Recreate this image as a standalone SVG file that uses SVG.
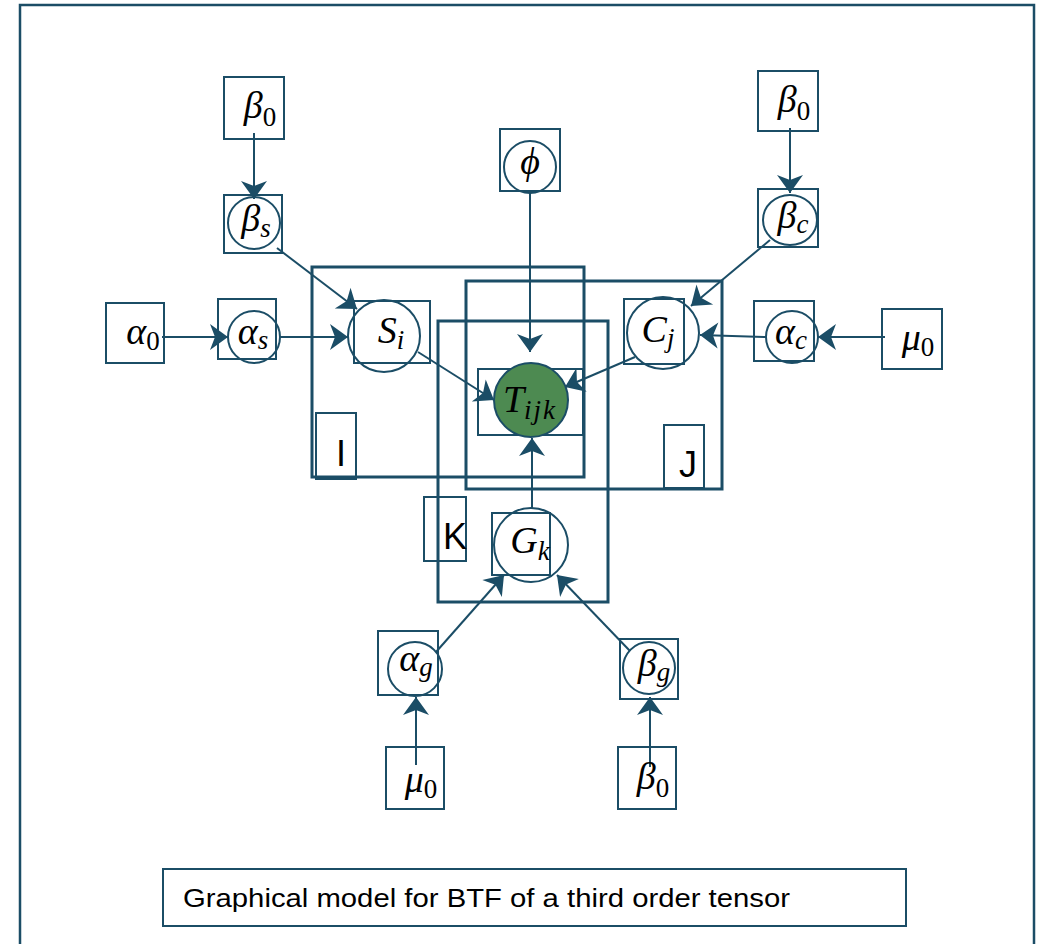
<svg xmlns="http://www.w3.org/2000/svg" width="1040" height="944" viewBox="0 0 1040 944">
<style>
.frame{fill:#fff;stroke:#1b4d66;stroke-width:2.5}
.plate{fill:none;stroke:#1b4d66;stroke-width:3}
.box{fill:none;stroke:#1b4d66;stroke-width:2}
.circ{fill:none;stroke:#1b4d66;stroke-width:2}
.obs{fill:#4d8a51;stroke:#1b4d66;stroke-width:2}
.edge{fill:none;stroke:#1b4d66;stroke-width:2;marker-end:url(#ah)}
.m{font-family:"Liberation Serif",serif;font-style:italic;font-size:38px;fill:#000;text-anchor:middle}
.s{font-size:27px}
.n{font-style:normal}
.pl{font-family:"Liberation Sans",Arial,sans-serif;font-size:36px;fill:#000;text-anchor:middle}
.cap{font-family:"Liberation Sans",Arial,sans-serif;font-size:25px;fill:#000}
</style>
<defs>
<marker id="ah" markerUnits="userSpaceOnUse" markerWidth="20" markerHeight="28" refX="18" refY="13" orient="auto" overflow="visible">
<path d="M0,0 L18,13 L0,26 L5,13 Z" fill="#1b4d66"/>
</marker>
</defs>
<rect class="frame" x="20" y="5" width="1014" height="960"/>

<g id="plates">
<rect id="plateI" class="plate" x="312" y="267" width="272" height="210"/>
<rect id="plateJ" class="plate" x="466" y="281" width="256" height="208"/>
<rect id="plateK" class="plate" x="438" y="321" width="170" height="281"/>
</g>

<g id="connectors">
<line class="edge" x1="254" y1="133" x2="254" y2="199"/>
<line class="edge" x1="162" y1="337" x2="228" y2="337"/>
<line class="edge" x1="280" y1="337" x2="348" y2="337"/>
<line class="edge" x1="277" y1="248" x2="357" y2="309"/>
<line class="edge" x1="530" y1="193" x2="530" y2="352"/>
<line class="edge" x1="790" y1="128" x2="790" y2="193"/>
<line class="edge" x1="770" y1="240" x2="691" y2="306"/>
<line class="edge" x1="885" y1="337" x2="818" y2="337"/>
<line class="edge" x1="766" y1="337" x2="700" y2="335"/>
<line class="edge" x1="418" y1="352" x2="494" y2="400"/>
<line class="edge" x1="635" y1="357" x2="565" y2="387"/>
<line class="edge" x1="532" y1="508" x2="532" y2="438"/>
<line class="edge" x1="436" y1="652" x2="504" y2="575"/>
<line class="edge" x1="630" y1="651" x2="557" y2="575"/>
<line class="edge" x1="416" y1="765" x2="416" y2="697"/>
<line class="edge" x1="650" y1="767" x2="650" y2="697"/>
</g>

<g id="n_beta0_s">
<rect class="box" x="224" y="77" width="60" height="62"/>
<text class="m" x="260" y="118">β<tspan class="s n" dy="8">0</tspan></text>
</g>
<g id="n_beta_s">
<rect class="box" x="224" y="195" width="58" height="58"/>
<circle class="circ" cx="254" cy="223" r="26"/>
<text class="m" x="256" y="231">β<tspan class="s" dy="6">s</tspan></text>
</g>
<g id="n_alpha0">
<rect class="box" x="106" y="303" width="58" height="60"/>
<text class="m" x="143" y="344">α<tspan class="s n" dy="6">0</tspan></text>
</g>
<g id="n_alpha_s">
<rect class="box" x="218" y="299" width="58" height="60"/>
<circle class="circ" cx="254" cy="337" r="26"/>
<text class="m" x="253" y="344">α<tspan class="s" dy="5">s</tspan></text>
</g>
<g id="n_S">
<rect class="box" x="354" y="301" width="76" height="62"/>
<circle class="circ" cx="384" cy="336" r="36"/>
<text class="m" x="391" y="343">S<tspan class="s" dy="6">i</tspan></text>
</g>
<g id="n_phi">
<rect class="box" x="500" y="129" width="60" height="62"/>
<circle class="circ" cx="530" cy="167" r="26"/>
<text class="m" x="530" y="174">ϕ</text>
</g>
<g id="n_beta0_c">
<rect class="box" x="758" y="71" width="60" height="60"/>
<text class="m" x="794" y="112">β<tspan class="s n" dy="8">0</tspan></text>
</g>
<g id="n_beta_c">
<rect class="box" x="758" y="189" width="60" height="58"/>
<ellipse class="circ" cx="790" cy="220" rx="27" ry="25"/>
<text class="m" x="793" y="228">β<tspan class="s" dy="5">c</tspan></text>
</g>
<g id="n_C">
<rect class="box" x="624" y="299" width="60" height="65"/>
<circle class="circ" cx="663" cy="333" r="36"/>
<text class="m" x="658" y="342">C<tspan class="s" dy="5">j</tspan></text>
</g>
<g id="n_alpha_c">
<rect class="box" x="754" y="301" width="60" height="60"/>
<circle class="circ" cx="792" cy="337" r="26"/>
<text class="m" x="791" y="344">α<tspan class="s" dy="5">c</tspan></text>
</g>
<g id="n_mu0_c">
<rect class="box" x="882" y="309" width="60" height="60"/>
<text class="m" x="918" y="350">μ<tspan class="s n" dy="6">0</tspan></text>
</g>
<g id="n_T">
<rect class="box" x="478" y="369" width="105" height="66"/>
<circle class="obs" cx="531" cy="400" r="37"/>
<text class="m" x="530" y="412">T<tspan class="s" dy="7" letter-spacing="2">ijk</tspan></text>
</g>
<g id="n_G">
<rect class="box" x="492" y="513" width="58" height="62"/>
<circle class="circ" cx="531" cy="545" r="37"/>
<text class="m" x="530" y="553">G<tspan class="s" dy="7">k</tspan></text>
</g>
<g id="n_alpha_g">
<rect class="box" x="378" y="631" width="60" height="64"/>
<circle class="circ" cx="415" cy="669" r="27"/>
<text class="m" x="416" y="671">α<tspan class="s" dy="5">g</tspan></text>
</g>
<g id="n_beta_g">
<rect class="box" x="620" y="639" width="58" height="60"/>
<circle class="circ" cx="649" cy="668" r="26"/>
<text class="m" x="654" y="676">β<tspan class="s" dy="5">g</tspan></text>
</g>
<g id="n_mu0_g">
<rect class="box" x="386" y="747" width="58" height="62"/>
<text class="m" x="421" y="792">μ<tspan class="s n" dy="6">0</tspan></text>
</g>
<g id="n_beta0_g">
<rect class="box" x="618" y="747" width="58" height="62"/>
<text class="m" x="653" y="789">β<tspan class="s n" dy="8">0</tspan></text>
</g>

<g id="plate_labels">
<g id="lab_I"><rect class="box" x="316" y="413" width="40" height="66"/><text class="pl" x="341" y="466">I</text></g>
<g id="lab_J"><rect class="box" x="664" y="425" width="40" height="63"/><text class="pl" x="688" y="477">J</text></g>
<g id="lab_K"><rect class="box" x="424" y="497" width="42" height="64"/><text class="pl" x="455" y="549">K</text></g>
</g>

<g id="caption">
<rect class="box" x="163" y="869" width="743" height="57"/>
<text class="cap" x="183" y="907" textLength="607" lengthAdjust="spacingAndGlyphs">Graphical model for BTF of a third order tensor</text>
</g>
</svg>
